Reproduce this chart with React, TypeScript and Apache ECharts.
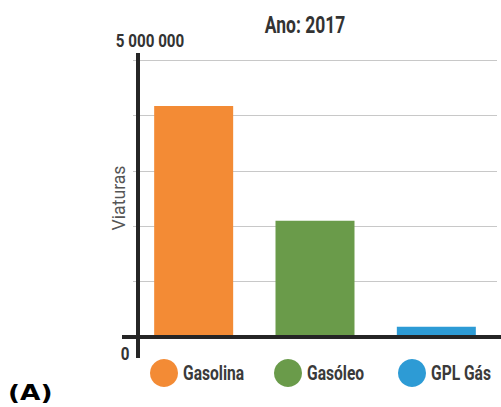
import React, { useEffect, useRef } from "react";
import * as echarts from "echarts";

// Fuel types and registered vehicles (2017)
const categories = ["Gasolina", "Gasóleo", "GPL Gás"];
const vehicles = [4170000, 2100000, 185000];
const colors = ["#F38B35", "#6A9B4A", "#2D9BD5"];
const axisMin = 0;
const axisMax = 5000000;
const tickStep = 1000000;
const endLabels = ["0", "5 000 000"];
const titleText = "Ano: 2017";
const axisName = "Viaturas";
const panelTag = "(A)";

const FONT = "Roboto, 'Noto Sans', sans-serif";

// Condensed-looking text: regular font squeezed horizontally
function squeezed(
  text: string,
  x: number,
  y: number,
  size: number,
  weight: string,
  fill: string,
  sx: number,
  align: string = "center",
  rotation = 0,
  family: string = FONT
) {
  return {
    type: "text",
    x,
    y,
    scaleX: sx,
    rotation,
    style: {
      text,
      fontFamily: family,
      fontSize: size,
      fontWeight: weight,
      fill,
      textAlign: align,
      textVerticalAlign: "middle",
    },
    z: 20,
  };
}

export default function App() {
  const ref = useRef<HTMLDivElement>(null);

  useEffect(() => {
    if (!ref.current) return;
    const chart = echarts.init(ref.current, null, { renderer: "svg", width: 501, height: 407 });

    const series = categories.map((name, i) => ({
      name,
      type: "bar" as const,
      data: categories.map((_, j) => (j === i ? vehicles[i] : "-")),
      barWidth: 79,
      barGap: "-100%",
      itemStyle: { color: colors[i] },
    }));

    chart.setOption({
      animation: false,
      backgroundColor: "#ffffff",
      grid: { left: 133, right: 4, top: 60, bottom: 70 },
      xAxis: {
        type: "category",
        data: categories,
        axisLine: { show: false },
        axisTick: { show: false },
        axisLabel: { show: false },
      },
      yAxis: {
        type: "value",
        min: axisMin,
        max: axisMax,
        interval: tickStep,
        axisLine: { show: false },
        axisTick: { show: false },
        axisLabel: { show: false },
        splitLine: { lineStyle: { color: "#c8c8c8", width: 1 } },
      },
      series,
    });

    // Axis lines, labels and legend placed from the value scale
    const y0 = chart.convertToPixel({ yAxisIndex: 0 }, axisMin) as number;
    const yTop = chart.convertToPixel({ yAxisIndex: 0 }, axisMax) as number;
    const axisX = 138;
    const legendY = 373;

    const legendItems: any[] = [];
    categories.forEach((name, i) => {
      const cx = 164 + i * 124;
      legendItems.push({
        type: "circle",
        shape: { cx, cy: legendY, r: 14 },
        style: { fill: colors[i] },
        z: 20,
      });
      legendItems.push(squeezed(name, cx + 19, legendY, 20, "bold", "#3a3a3a", 0.78, "left"));
    });

    chart.setOption({
      graphic: [
        {
          type: "line",
          shape: { x1: 122, y1: y0, x2: 501, y2: y0 },
          style: { stroke: "#252525", lineWidth: 4 },
          z: 10,
        },
        {
          type: "line",
          shape: { x1: axisX, y1: yTop - 7, x2: axisX, y2: y0 + 21 },
          style: { stroke: "#252525", lineWidth: 4 },
          z: 10,
        },
        squeezed(titleText, 305, 25, 23, "bold", "#333333", 0.76),
        squeezed(endLabels[1], 150, yTop - 20, 19, "bold", "#333333", 0.8),
        squeezed(endLabels[0], 125, y0 + 16, 19, "bold", "#333333", 0.8),
        squeezed(axisName, 118, 198, 18, "normal", "#555555", 0.98, "center", Math.PI / 2),
        ...legendItems,
        squeezed(panelTag, 8, 392, 22, "bold", "#000000", 1.2, "left", 0, "'DejaVu Sans', sans-serif"),
      ],
    });

    return () => chart.dispose();
  }, []);

  return <div ref={ref} style={{ width: 501, height: 407, position: "absolute", left: 0, top: 0 }} />;
}
